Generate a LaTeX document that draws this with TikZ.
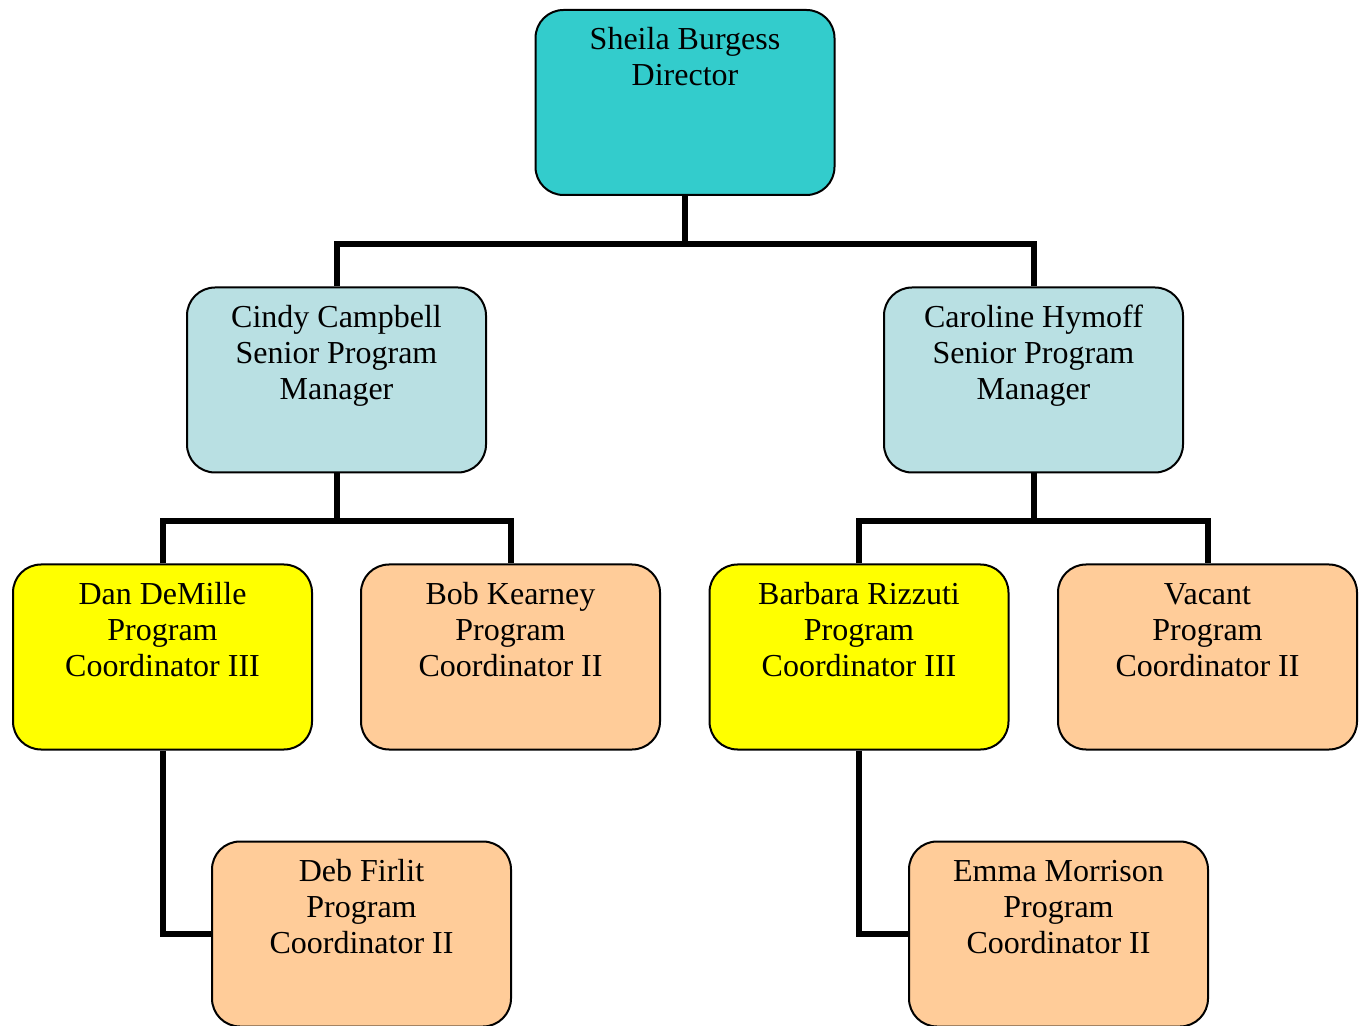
\documentclass[tikz,border=0pt]{standalone}
\usepackage{fontspec}
\setmainfont{Liberation Serif}
\definecolor{teal1}{HTML}{33CCCC}
\definecolor{aqua1}{HTML}{B9E0E3}
\definecolor{yel1}{HTML}{FFFF00}
\definecolor{peach1}{HTML}{FFCC99}
\tikzset{
  orgbox/.style={draw=black, line width=1pt, rounded corners=14pt, inner sep=0pt,
    font=\fontsize{16}{18}\selectfont},
  conn/.style={draw=black, line width=3pt}
}
\newcommand{\boxtext}[1]{\parbox[c][92.5pt][t]{149.5pt}{\centering\rule{0pt}{20pt}#1\par}}
\begin{document}
\begin{tikzpicture}[x=1pt,y=1pt]
\useasboundingbox (0,0) rectangle (680.5,-513);
% nodes
\node[orgbox, fill=teal1] (sb) at (342.5,-51.25) {\boxtext{Sheila Burgess\\Director}};
\node[orgbox, fill=aqua1] (cc) at (168.25,-190) {\boxtext{Cindy Campbell\\Senior Program\\Manager}};
\node[orgbox, fill=aqua1] (ch) at (516.75,-190) {\boxtext{Caroline Hymoff\\Senior Program\\Manager}};
\node[orgbox, fill=yel1] (dd) at (81.25,-328.5) {\boxtext{Dan DeMille\\Program\\Coordinator III}};
\node[orgbox, fill=peach1] (bk) at (255.25,-328.5) {\boxtext{Bob Kearney\\Program\\Coordinator II}};
\node[orgbox, fill=yel1] (br) at (429.5,-328.5) {\boxtext{Barbara Rizzuti\\Program\\Coordinator III}};
\node[orgbox, fill=peach1] (va) at (603.75,-328.5) {\boxtext{Vacant\\Program\\Coordinator II}};
\node[orgbox, fill=peach1] (df) at (180.75,-467) {\boxtext{Deb Firlit\\Program\\Coordinator II}};
\node[orgbox, fill=peach1] (em) at (529.25,-467) {\boxtext{Emma Morrison\\Program\\Coordinator II}};
% bus coordinates
\coordinate (bus1) at (342.5,-122);
\coordinate (bus2) at (168.25,-260.5);
\coordinate (bus3) at (516.75,-260.5);
% connectors
\draw[conn] (sb.south) -- (bus1);
\draw[conn] (cc.north) |- (bus1) -| (ch.north);
\draw[conn] (cc.south) -- (bus2);
\draw[conn] (dd.north) |- (bus2) -| (bk.north);
\draw[conn] (ch.south) -- (bus3);
\draw[conn] (br.north) |- (bus3) -| (va.north);
\draw[conn] (dd.south) |- (df.west);
\draw[conn] (br.south) |- (em.west);
\end{tikzpicture}
\end{document}
